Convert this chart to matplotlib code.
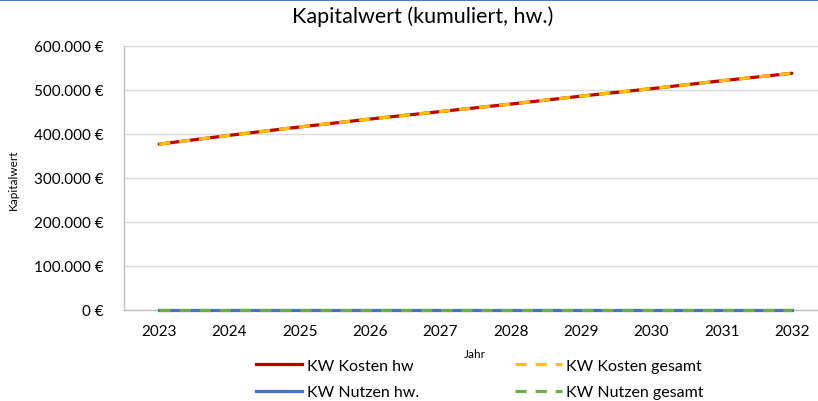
#!/usr/bin/env python3

# Kapitalwert chart (cumulated, hw.)

import matplotlib
matplotlib.use('Agg')
import matplotlib.pyplot as plt
from matplotlib.ticker import FuncFormatter, MultipleLocator
from matplotlib.lines import Line2D

years = [2023, 2024, 2025, 2026, 2027, 2028, 2029, 2030, 2031, 2032]
kw_kosten_hw = [377000, 397000, 416000, 434000, 451000, 468000, 486000, 503000, 521000, 538000]
kw_kosten_gesamt = [377000, 397000, 416000, 434000, 451000, 468000, 486000, 503000, 521000, 538000]
kw_nutzen_hw = [0, 0, 0, 0, 0, 0, 0, 0, 0, 0]
kw_nutzen_gesamt = [0, 0, 0, 0, 0, 0, 0, 0, 0, 0]

plt.rcParams['font.family'] = ['Lato', 'DejaVu Sans']

W, H = 818, 402
fig = plt.figure(figsize=(W / 100, H / 100), dpi=100)

# axes box in pixel units -> figure fraction
left, right, top, bottom = 124, 827, 47, 311
ax = fig.add_axes([left / W, 1 - bottom / H, (right - left) / W, (bottom - top) / H])

x = list(range(len(years)))
lw = 2.3
dash = (3.5, 2.8)
ax.plot(x, kw_kosten_hw, color='#C00000', lw=lw, solid_capstyle='round', zorder=3)
ax.plot(x, kw_kosten_gesamt, color='#FFC000', lw=lw, dashes=dash,
        dash_capstyle='butt', zorder=4)
ax.plot(x, kw_nutzen_hw, color='#4472C4', lw=lw, zorder=5, clip_on=False)
ax.plot(x, kw_nutzen_gesamt, color='#70AD47', lw=lw, dashes=dash,
        dash_capstyle='butt', zorder=6, clip_on=False)

ax.set_xlim(-0.5, len(years) - 0.5)
ax.set_ylim(0, 600000)
ax.yaxis.set_major_locator(MultipleLocator(100000))
ax.yaxis.set_major_formatter(FuncFormatter(
    lambda v, p: '{:,.0f} €'.format(v).replace(',', '.')))
ax.set_xticks(x)
ax.set_xticklabels([str(y) for y in years])

ax.grid(True, axis='y', color='#D9D9D9', lw=1)
ax.set_axisbelow(True)
for s in ['top', 'right']:
    ax.spines[s].set_visible(False)
for s in ['left', 'bottom']:
    ax.spines[s].set_color('#BFBFBF')
    ax.spines[s].set_linewidth(1)
    ax.spines[s].set_zorder(2)
ax.tick_params(length=0, labelsize=11, colors='black', pad=15)
ax.tick_params(axis='x', pad=10)

fig.text(0.5 * (292 + 553) / W, 1 - 17 / H, 'Kapitalwert (kumuliert, hw.)',
         ha='center', va='center', fontsize=15.5)
fig.text(13 / W, 1 - 180 / H, 'Kapitalwert', rotation=90,
         ha='center', va='center', fontsize=8.5)
fig.text(475 / W, 1 - 355 / H, 'Jahr', ha='center', va='center', fontsize=8.5)

# thin blue frame line at the top
fig.add_artist(Line2D([0, 1], [1 - 0.8 / H, 1 - 0.8 / H], color='#4A7EBB', lw=1.5))

handles = [
    Line2D([], [], color='#C00000', lw=lw),
    Line2D([], [], color='#4472C4', lw=lw),
    Line2D([], [], color='#FFC000', lw=lw, dashes=dash),
    Line2D([], [], color='#70AD47', lw=lw, dashes=dash),
]
labels = ['KW Kosten hw', 'KW Nutzen hw.', 'KW Kosten gesamt', 'KW Nutzen gesamt']
fig.legend(handles, labels, ncol=2, loc='center', frameon=False,
           bbox_to_anchor=(480 / W, 1 - 380 / H), fontsize=11.5,
           handlelength=2.9, handletextpad=0.3, columnspacing=6.0,
           labelspacing=0.75, borderpad=0)

fig.savefig('out.png', dpi=100)
